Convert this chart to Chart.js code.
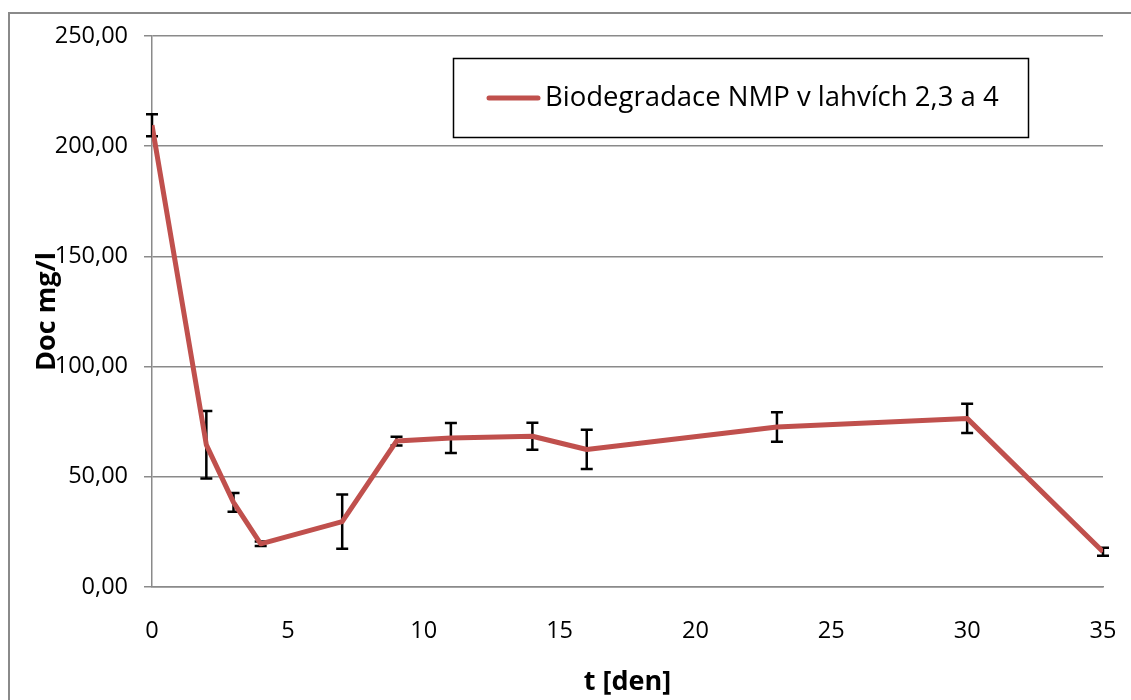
<!DOCTYPE html>
<html>
<head>
<meta charset="utf-8">
<script src="https://cdn.jsdelivr.net/npm/chart.js@4/dist/chart.umd.min.js"></script>
<style>
  html, body { margin: 0; padding: 0; background: #fff; }
  #wrap { width: 1131px; height: 700px; position: relative; }
</style>
</head>
<body>
<div id="wrap"><canvas id="chart" width="1131" height="700"></canvas></div>
<script>
// dny odběru a naměřené DOC [mg/l]
var days = [0, 2, 3, 4, 7, 9, 11, 14, 16, 23, 30, 35];
var doc = [209.5, 64.5, 38.4, 19.6, 29.7, 66.2, 67.6, 68.4, 62.4, 72.6, 76.5, 16.0];
var docErr = [5.0, 15.3, 4.3, 1.0, 12.3, 2.0, 6.8, 6.1, 8.9, 6.7, 6.6, 1.8];
var yTicks = [0, 50, 100, 150, 200, 250];
var xTicks = [0, 5, 10, 15, 20, 25, 30, 35];
var seriesLabel = 'Biodegradace NMP v lahvích 2,3 a 4';

var FONT = '"Open Sans", "DejaVu Sans", sans-serif';
var GRID = '#8a8a8a';
var RED = '#C0504D';

var points = days.map(function (d, i) { return { x: d, y: doc[i] }; });

// chybové úsečky pod čarou
var errorBars = {
  id: 'errorBars',
  beforeDatasetsDraw: function (chart) {
    var ctx = chart.ctx;
    var xs = chart.scales.x, ys = chart.scales.y;
    ctx.save();
    ctx.strokeStyle = '#000';
    ctx.lineWidth = 2.5;
    days.forEach(function (d, i) {
      var px = xs.getPixelForValue(d);
      var top = ys.getPixelForValue(doc[i] + docErr[i]);
      var bot = ys.getPixelForValue(doc[i] - docErr[i]);
      ctx.beginPath();
      ctx.moveTo(px, top); ctx.lineTo(px, bot);
      ctx.moveTo(px - 6, top); ctx.lineTo(px + 6, top);
      ctx.moveTo(px - 6, bot); ctx.lineTo(px + 6, bot);
      ctx.stroke();
    });
    ctx.restore();
  }
};

// rámeček grafu a legenda v rámečku
var frameAndLegend = {
  id: 'frameAndLegend',
  afterDraw: function (chart) {
    var ctx = chart.ctx;
    ctx.save();
    ctx.strokeStyle = GRID;
    ctx.lineWidth = 2;
    ctx.strokeRect(9, 13, 1200, 800);

    ctx.strokeStyle = '#000';
    ctx.lineWidth = 1.5;
    ctx.strokeRect(453.5, 58.5, 575, 79);
    ctx.strokeStyle = RED;
    ctx.lineWidth = 5;
    ctx.lineCap = 'round';
    ctx.beginPath();
    ctx.moveTo(489, 98); ctx.lineTo(538, 98);
    ctx.stroke();
    ctx.fillStyle = '#000';
    ctx.font = '27.5px ' + FONT;
    ctx.textBaseline = 'middle';
    ctx.fillText(chart.data.datasets[0].label, 545, 98);
    ctx.restore();
  }
};

new Chart(document.getElementById('chart'), {
  type: 'line',
  data: {
    datasets: [{
      label: seriesLabel,
      data: points,
      borderColor: RED,
      backgroundColor: RED,
      borderWidth: 5,
      borderJoinStyle: 'round',
      pointRadius: 0,
      tension: 0,
      fill: false
    }]
  },
  options: {
    responsive: false,
    animation: false,
    layout: { padding: { left: 0, top: 36, right: 28, bottom: 0 } },
    plugins: {
      legend: { display: false },
      tooltip: { enabled: false }
    },
    scales: {
      x: {
        type: 'linear',
        min: 0,
        max: 35,
        afterFit: function (s) { s.height = 113; s.paddingLeft = 0; s.paddingRight = 0; },
        afterBuildTicks: function (s) { s.ticks = xTicks.map(function (v) { return { value: v }; }); },
        grid: { display: false, drawTicks: false },
        border: { display: true, color: GRID, width: 1.5 },
        ticks: { color: '#000', padding: 30, font: { family: FONT, size: 23.5 } },
        title: {
          display: true,
          text: 't [den]',
          color: '#000',
          padding: { top: 0, bottom: 1 },
          font: { family: FONT, size: 27, weight: 'bold' }
        }
      },
      y: {
        min: 0,
        max: 250,
        afterFit: function (s) { s.width = 152; },
        afterBuildTicks: function (s) { s.ticks = yTicks.map(function (v) { return { value: v }; }); },
        grid: { color: GRID, lineWidth: 1.5, tickLength: 8, tickColor: GRID },
        border: { display: true, color: GRID, width: 1.5 },
        ticks: {
          color: '#000',
          padding: 16,
          font: { family: FONT, size: 23.5 },
          callback: function (v) { return v.toFixed(2).replace('.', ','); }
        },
        title: {
          display: true,
          text: 'Doc mg/l',
          color: '#000',
          padding: { top: 31, bottom: 0 },
          font: { family: FONT, size: 27, weight: 'bold' }
        }
      }
    }
  },
  plugins: [errorBars, frameAndLegend]
});
</script>
</body>
</html>
